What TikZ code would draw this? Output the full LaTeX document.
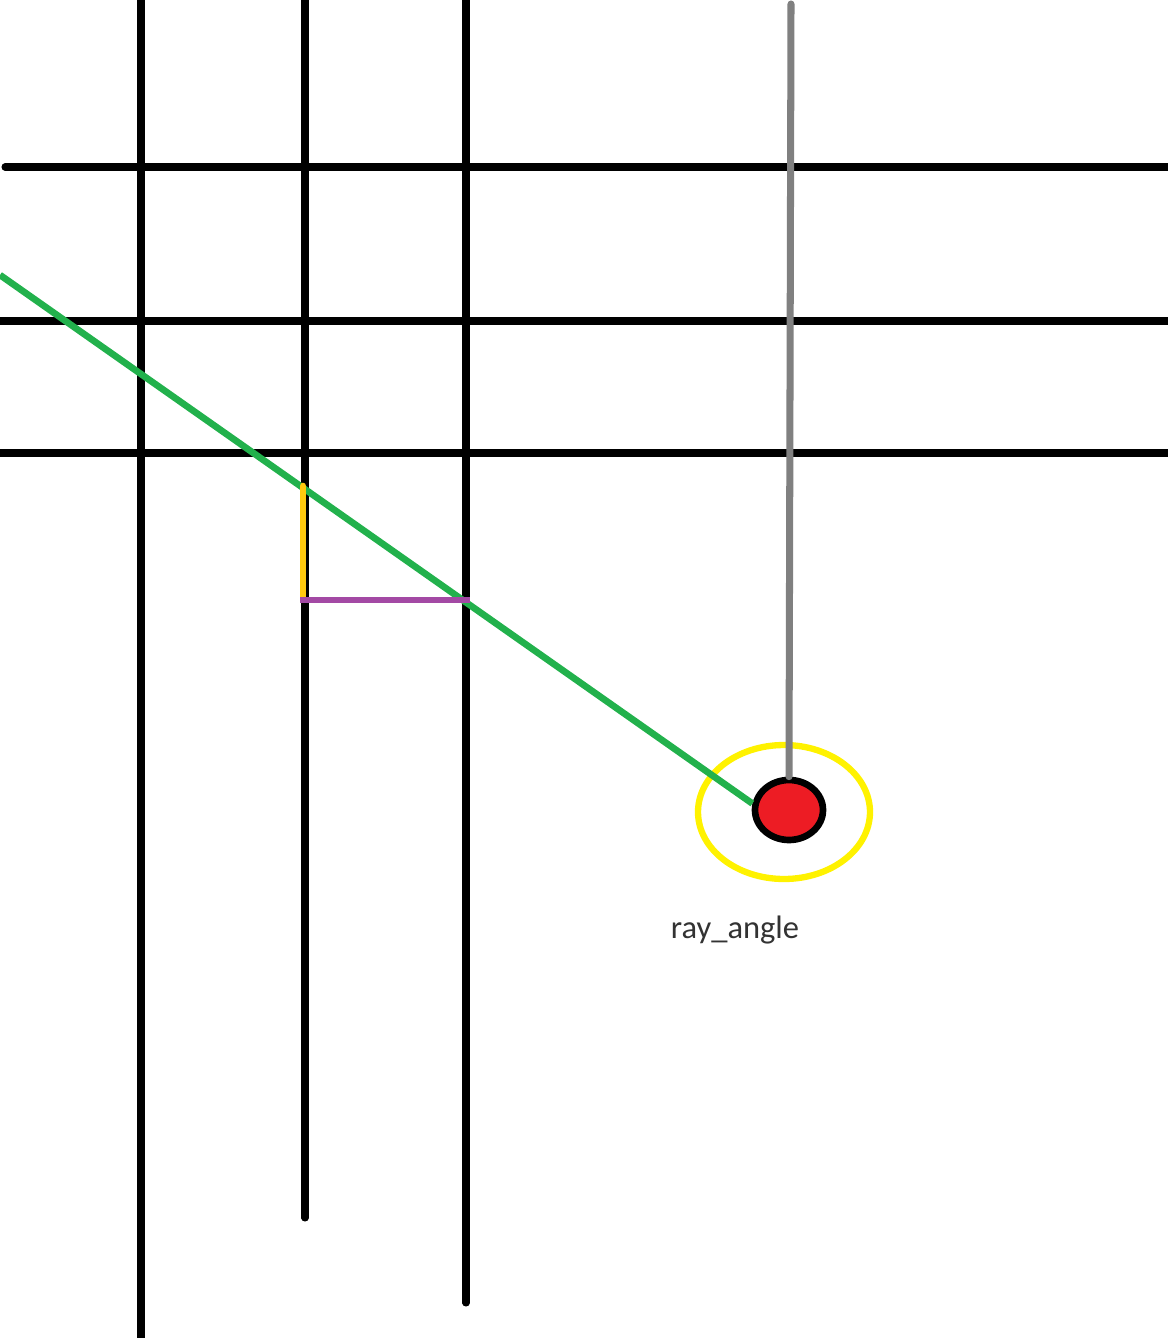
\documentclass[tikz,border=0pt]{standalone}
\usepackage{fontspec}
\setsansfont{Carlito}
\usepackage{tikz}
\usetikzlibrary{
  arrows.meta,
  positioning,
  shapes.geometric
}
\definecolor{raygreen}{HTML}{22B14C}
\definecolor{dotred}{HTML}{ED1C24}
\definecolor{stepgold}{HTML}{FFC90E}
\definecolor{steppurple}{HTML}{A349A4}
\definecolor{ringyellow}{HTML}{FFF200}
\definecolor{labelgray}{HTML}{333333}

\begin{document}
\begin{tikzpicture}[
  x=0.02cm, y=-0.02cm,
  % Line styles
  gridline/.style={
    black,
    line width=4pt,
    line cap=round,
  },
  rayline/.style={
    raygreen,
    line width=3.8pt,
  },
  dirline/.style={
    gray,
    line width=4pt,
    line cap=round,
  },
  xstepline/.style={
    steppurple,
    line width=3.8pt,
  },
  ystepline/.style={
    stepgold,
    line width=3.8pt,
    line cap=round,
  },
  % Node styles
  ring/.style={
    ellipse,
    draw=ringyellow,
    line width=3.6pt,
    minimum width=3.44cm,
    minimum height=2.68cm,
    inner sep=0pt,
  },
  player/.style={
    ellipse,
    draw=black,
    fill=dotred,
    line width=3.8pt,
    minimum width=1.36cm,
    minimum height=1.2cm,
    inner sep=0pt,
  },
  caption/.style={
    font=\sffamily\fontsize{18.5}{22}\selectfont,
    text=labelgray,
  },
]

\useasboundingbox (0,0) rectangle (1168,1338);

% ── Grid: vertical lines ──
\draw[gridline] (141,0) -- (141,1338);
\draw[gridline] (305,0) -- (305,1218);
\draw[gridline] (466,0) -- (466,1303);

% ── Grid: horizontal lines ──
\draw[gridline] (5,167) -- (1168,167);
\draw[gridline] (0,321) -- (1168,321);
\draw[gridline] (0,453) -- (1168,453);

% ── Player ──
\node[ring] (fov) at (784,812) {};
\node[player] (pos) at (789,810) {};
\coordinate (dirtop) at (791,4);
\draw[dirline] (dirtop) -- (pos.north);
\coordinate (rayend) at (0,275);
\draw[rayline] (rayend) -- (pos.170);

% ── Step lengths ──
\coordinate (ya) at (303,486);
\coordinate (yb) at (303,598);
\coordinate (xa) at (300,600);
\coordinate (xb) at (470,600);
\draw[ystepline] (ya) -- (yb);
\draw[xstepline] (xa) -- (xb);

% ── Label ──
\node[caption] (lbl) at (735,930) {ray\_angle};

\end{tikzpicture}
\end{document}
